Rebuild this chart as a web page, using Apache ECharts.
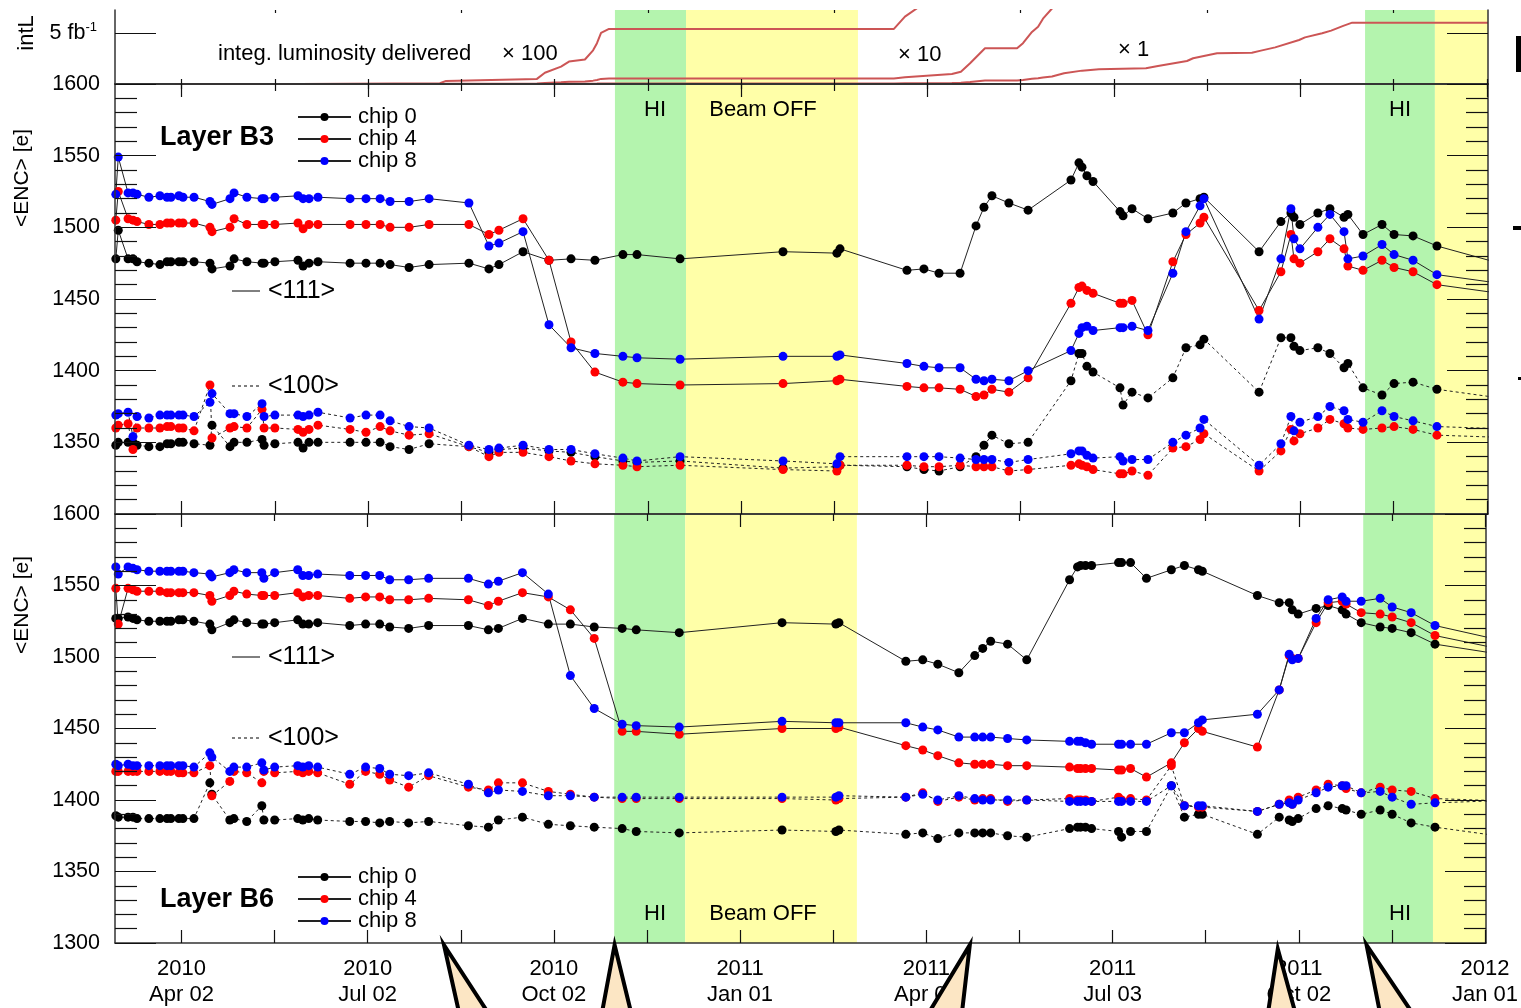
<!DOCTYPE html>
<html>
<head>
<meta charset="utf-8">
<script src="https://cdn.jsdelivr.net/npm/echarts@6/dist/echarts.min.js"></script>
<style>
html,body{margin:0;padding:0;background:#fff;}
#main{width:1521px;height:1008px;}
</style>
</head>
<body>
<div id="main"></div>
<script>
var myChart = echarts.init(document.getElementById('main'));
var FONT = 'Liberation Sans, Arial, sans-serif';

// calibration runs, in days since 2010-01-01
var days = [58.8,60.0,64.8,67.2,69.2,75.0,80.4,83.9,85.8,89.7,
	91.7,97.1,104.9,105.9,114.7,116.7,123.0,130.4,131.4,136.7,
	148.0,150.5,153.4,157.8,173.5,181.3,188.2,193.1,202.4,212.2,
	231.7,241.5,246.4,258.2,270.9,281.7,293.4,307.1,314.0,335.1,
	385.5,411.9,413.4,446.2,454.5,461.9,472.2,480.0,483.9,487.8,
	496.1,505.5,526.5,530.4,531.9,534.3,537.3,550.5,552.0,556.4,
	564.2,576.4,582.8,589.7,591.6,618.6,629.3,634.2,635.7,638.6,
	647.4,653.3,660.2,662.1,669.5,678.8,684.7,694.0,705.7,746.4];

// Layer B3, <111> sensors
var b3_111_chip0 = [1478,1498,1478,1478,1476,1475,1474,1476,1476,1476,
	1476,1476,1475,1471,1473,1478,1476,1475,1475,1476,
	1477,1473,1475,1476,1475,1475,1475,1474,1472,1474,
	1475,1471,1474,1483,1477,1478,1477,1481,1481,1478,
	1483,1482,1485,1470,1471,1468,1468,1501,1514,1522,
	1517,1512,1533,1545,1542,1536,1532,1511,1508,1513,
	1506,1510,1517,1520,1521,1483,1504,1510,1507,1502,
	1510,1513,1507,1509,1495,1502,1495,1494,1487,1471];
var b3_111_chip4 = [1505,1525,1506,1505,1504,1502,1502,1503,1503,1503,
	1503,1503,1500,1497,1500,1506,1502,1502,1502,1502,
	1503,1499,1502,1502,1502,1502,1502,1500,1500,1502,
	1502,1495,1498,1506,1477,1420,1399,1392,1391,1390,
	1391,1393,1394,1389,1388,1388,1387,1382,1383,1387,
	1385,1395,1447,1458,1459,1456,1454,1447,1447,1449,
	1425,1476,1495,1503,1507,1442,1469,1495,1478,1475,
	1483,1492,1485,1473,1470,1477,1472,1469,1460,1452];
var b3_111_chip8 = [1523,1549,1524,1524,1523,1521,1522,1521,1521,1522,
	1521,1521,1518,1516,1520,1524,1521,1520,1520,1521,
	1522,1520,1520,1521,1520,1520,1520,1518,1518,1520,
	1517,1487,1489,1497,1432,1416,1412,1410,1409,1408,
	1410,1410,1411,1405,1403,1402,1402,1394,1393,1394,
	1393,1400,1414,1426,1430,1431,1428,1430,1430,1431,
	1428,1468,1497,1515,1520,1436,1478,1513,1492,1485,
	1500,1509,1497,1478,1480,1488,1481,1477,1467,1459];

// Layer B3, <100> sensors
var b3_100_chip0 = [1348,1350,1350,1350,1348,1347,1347,1349,1349,1350,
	1350,1349,1348,1362,1347,1350,1350,1352,1348,1349,
	1350,1346,1350,1350,1350,1350,1350,1347,1345,1349,
	1347,1343,1345,1346,1344,1343,1340,1337,1336,1337,
	1332,1333,1334,1333,1331,1330,1333,1340,1348,1355,
	1349,1350,1393,1412,1412,1403,1399,1388,1376,1385,
	1381,1395,1416,1418,1422,1385,1423,1423,1417,1414,
	1416,1412,1402,1405,1388,1383,1391,1392,1387,1379];
var b3_100_chip4 = [1360,1362,1363,1345,1360,1360,1360,1361,1361,1360,
	1360,1358,1390,1353,1360,1361,1360,1373,1360,1360,
	1359,1357,1359,1362,1359,1357,1361,1358,1355,1356,
	1347,1340,1343,1343,1340,1337,1335,1334,1333,1334,
	1331,1330,1334,1334,1333,1333,1334,1333,1333,1333,
	1330,1331,1334,1335,1334,1333,1331,1328,1328,1330,
	1327,1346,1347,1352,1356,1330,1344,1359,1351,1356,
	1360,1366,1363,1360,1359,1360,1361,1359,1355,1353];
var b3_100_chip8 = [1369,1370,1371,1354,1368,1367,1369,1369,1369,1369,
	1369,1368,1378,1384,1370,1370,1368,1377,1368,1369,
	1369,1368,1369,1371,1367,1369,1369,1365,1361,1360,
	1348,1345,1346,1348,1345,1345,1342,1339,1337,1340,
	1337,1335,1340,1340,1340,1340,1339,1338,1338,1338,
	1336,1338,1342,1344,1344,1341,1339,1340,1337,1338,
	1338,1350,1355,1360,1366,1334,1349,1368,1358,1364,
	1368,1375,1372,1366,1364,1372,1368,1365,1361,1359];

// Layer B6, <111> sensors
var b6_111_chip0 = [1527,1527,1528,1527,1526,1525,1525,1525,1525,1526,
	1526,1525,1523,1519,1524,1526,1524,1523,1523,1524,
	1526,1523,1523,1524,1522,1523,1523,1521,1520,1522,
	1522,1519,1520,1527,1523,1523,1521,1520,1519,1517,
	1524,1523,1524,1497,1498,1495,1489,1501,1506,1511,
	1509,1498,1554,1563,1564,1564,1564,1566,1566,1566,
	1555,1561,1564,1561,1560,1543,1538,1538,1533,1530,
	1534,1536,1533,1530,1524,1521,1520,1517,1509,1500];
var b6_111_chip4 = [1548,1523,1548,1547,1546,1546,1546,1545,1545,1545,
	1545,1545,1543,1539,1543,1546,1544,1543,1543,1543,
	1545,1542,1543,1543,1541,1542,1542,1540,1540,1541,
	1540,1536,1539,1545,1542,1533,1513,1448,1448,1446,
	1450,1450,1451,1438,1435,1431,1426,1425,1425,1425,
	1424,1424,1423,1422,1422,1422,1422,1421,1421,1422,
	1416,1426,1440,1450,1448,1437,1477,1501,1499,1499,
	1524,1538,1539,1537,1531,1530,1528,1524,1515,1503];
var b6_111_chip8 = [1563,1558,1563,1562,1561,1560,1560,1560,1560,1560,
	1560,1559,1558,1556,1559,1561,1559,1559,1555,1559,
	1561,1557,1557,1558,1557,1557,1557,1554,1554,1555,
	1555,1551,1553,1559,1544,1487,1464,1453,1452,1451,
	1455,1454,1454,1454,1451,1449,1444,1444,1444,1444,
	1443,1442,1441,1441,1441,1440,1439,1439,1439,1439,
	1439,1447,1447,1454,1456,1460,1477,1502,1498,1499,
	1527,1540,1542,1539,1539,1541,1535,1531,1522,1509];

// Layer B6, <100> sensors
var b6_100_chip0 = [1389,1388,1388,1388,1387,1387,1387,1387,1387,1387,
	1387,1387,1412,1404,1386,1387,1385,1396,1386,1386,
	1387,1386,1387,1386,1385,1385,1384,1385,1384,1385,
	1382,1381,1386,1388,1383,1382,1381,1380,1378,1377,
	1379,1378,1379,1376,1377,1373,1377,1377,1377,1377,
	1375,1374,1380,1381,1381,1381,1380,1378,1374,1378,
	1378,1410,1388,1390,1390,1376,1388,1386,1385,1387,
	1394,1396,1394,1393,1390,1393,1390,1384,1381,1373];
var b6_100_chip4 = [1420,1420,1420,1420,1420,1420,1420,1420,1420,1419,
	1419,1419,1424,1403,1413,1420,1419,1412,1420,1419,
	1420,1419,1420,1419,1411,1420,1418,1414,1409,1417,
	1409,1407,1412,1412,1406,1404,1402,1401,1401,1401,
	1401,1400,1401,1402,1405,1399,1402,1400,1401,1401,
	1399,1400,1401,1400,1400,1400,1399,1402,1400,1401,
	1400,1424,1396,1395,1395,1392,1397,1400,1397,1402,
	1407,1411,1410,1408,1405,1409,1407,1406,1401,1399];
var b6_100_chip8 = [1425,1424,1425,1424,1424,1424,1424,1424,1424,1424,
	1424,1423,1433,1430,1420,1423,1423,1426,1421,1423,
	1424,1423,1424,1423,1418,1423,1422,1418,1417,1419,
	1411,1405,1407,1406,1403,1403,1402,1402,1402,1402,
	1402,1402,1403,1402,1404,1400,1403,1401,1400,1400,
	1400,1400,1399,1399,1399,1399,1399,1399,1399,1399,
	1399,1410,1396,1396,1396,1392,1397,1398,1397,1400,
	1405,1409,1410,1410,1405,1406,1402,1397,1398,1400];

// integrated luminosity delivered [fb-1]
var lumiDays = [87.8,149.0,217.5,220.5,265.0,268.9,276.8,280.7,288.5,292.5,
	294.4,296.4,300.3,439.8,445.2,468.2,472.6,477.1,484.4,500.1,
	503.0,507.4,510.4,512.8,517.2,523.1,531.9,540.2,563.2,569.1,
	583.3,586.3,598.0,615.1,619.5,626.5,638.2,641.1,649.5,653.9,
	659.8,664.2,730.7];
var lumiFb = [0,0.0001,0.0007,0.003,0.005,0.011,0.017,0.022,0.024,0.033,
	0.040,0.050,0.054,0.054,0.066,0.098,0.12,0.203,0.35,0.35,
	0.40,0.51,0.56,0.64,0.74,1.05,1.31,1.44,1.54,1.76,
	2.25,2.52,3.01,3.07,3.27,3.59,4.31,4.57,4.97,5.23,
	5.69,6.01,6.01];
var lumiScales = [100, 10, 1];

// time axis ticks
var labelDays = [91.0,182.3,273.6,364.9,456.3,547.6,638.9,730.2];
var minorDays = [136.7,228.0,319.3,410.6,501.9,593.2,684.5];
var tickLabels = ['2010\nApr 02','2010\nJul 02','2010\nOct 02','2011\nJan 01','2011\nApr 02','2011\nJul 03','2011\nOct 02','2012\nJan 01'];
var allTicks = labelDays.concat(minorDays);

// heavy ion runs and beam off periods
var hiRuns = [[303.2,338.0],[670.5,704.7]];
var beamOff = [[338.0,422.2],[704.7,745]];

var chips = ['chip 0','chip 4','chip 8'];
var chipColors = ['#000000','#ff0000','#0000ff'];

var XMIN = 58.4, XMAX = 730.7;
var axisLineStyle = {color:'#333', width:1.5};
var tickStyle = {color:'#111', width:1.2};

function xAxes(g, len, withLabels){
	var res = [];
	res.push({
		type:'value', gridIndex:g, position:'bottom', min:XMIN, max:XMAX, z:10,
		splitLine:{show:false}, axisLine:{show:true, lineStyle:axisLineStyle},
		axisTick:{show:true, inside:true, length:len, customValues:allTicks, lineStyle:tickStyle},
		axisLabel: withLabels ? {
			show:true, customValues:labelDays, margin:13, fontSize:22, lineHeight:26,
			color:'#000', fontFamily:FONT,
			formatter:function(v){
				var best = 0;
				for (var i = 0; i < labelDays.length; i++) {
					if (Math.abs(labelDays[i]-v) < Math.abs(labelDays[best]-v)) best = i;
				}
				return tickLabels[best];
			}
		} : {show:false}
	});
	res.push({
		type:'value', gridIndex:g, position:'top', min:XMIN, max:XMAX, z:10,
		splitLine:{show:false}, axisLine:{show:true, lineStyle:axisLineStyle},
		axisTick:{show:true, inside:true, length:len, customValues:labelDays, lineStyle:tickStyle},
		axisLabel:{show:false}
	});
	res.push({
		type:'value', gridIndex:g, position:'top', min:XMIN, max:XMAX, z:10,
		splitLine:{show:false}, axisLine:{show:false},
		axisTick:{show:true, inside:true, length:Math.round(len/2), customValues:minorDays, lineStyle:tickStyle},
		axisLabel:{show:false}
	});
	return res;
}

function encY(g, showMin){
	var base = {
		type:'value', gridIndex:g, min:1300, max:1600, interval:50, z:10,
		splitLine:{show:false}, axisLine:{show:true, lineStyle:axisLineStyle},
		axisTick:{show:true, inside:true, length:41, lineStyle:tickStyle},
		minorTick:{show:true, splitNumber:5, length:22, lineStyle:tickStyle}
	};
	var left = Object.assign({}, base, {position:'left',
		axisLabel:{show:true, showMinLabel:showMin, margin:15, fontSize:21.5, color:'#000', fontFamily:FONT,
			formatter:function(v){ return String(v); }}});
	var right = Object.assign({}, base, {position:'right', axisLabel:{show:false}});
	return [left, right];
}

var lumiY = {
	type:'value', gridIndex:0, min:0, max:7.25, position:'left', z:10,
	splitLine:{show:false}, axisLine:{show:true, lineStyle:axisLineStyle},
	axisTick:{show:true, inside:true, length:41, customValues:[5], lineStyle:tickStyle},
	axisLabel:{show:true, customValues:[5], margin:18, color:'#000', fontFamily:FONT,
		formatter:function(){ return '{a|5 fb}{s|-1}'; },
		rich:{a:{fontSize:21.5, fontFamily:FONT, color:'#000'}, s:{fontSize:13, fontFamily:FONT, color:'#000', padding:[0,0,12,0]}}}
};
var lumiYRight = {
	type:'value', gridIndex:0, min:0, max:7.25, position:'right', z:10,
	splitLine:{show:false}, axisLine:{show:true, lineStyle:axisLineStyle},
	axisTick:{show:true, inside:true, length:41, customValues:[5], lineStyle:tickStyle},
	axisLabel:{show:false}
};

function bandSeries(g){
	var areas = [];
	hiRuns.forEach(function(r){
		areas.push([{xAxis:r[0], itemStyle:{color:'#b4f4ae'}}, {xAxis:r[1]}]);
	});
	beamOff.forEach(function(r){
		areas.push([{xAxis:r[0], itemStyle:{color:'#ffffa8'}}, {xAxis:r[1]}]);
	});
	return {
		type:'line', xAxisIndex:g*3, yAxisIndex:g*2, data:[], silent:true, z:1,
		markArea:{silent:true, data:areas}
	};
}

function encSeries(name, vals, color, dashed, g){
	return {
		name:name, type:'line', xAxisIndex:g*3, yAxisIndex:g*2,
		data:days.map(function(d, i){ return [d, vals[i]]; }),
		symbol:'circle', symbolSize:9, clip:true, z:3,
		itemStyle:{color:color},
		lineStyle:{color:'#222', width:1, type: dashed ? [3,3] : 'solid'}
	};
}

var series = [bandSeries(0), bandSeries(1), bandSeries(2)];

// B3 / B6, solid <111> first so the legend takes their style
[[b3_111_chip0,b3_111_chip4,b3_111_chip8,1,false],
 [b6_111_chip0,b6_111_chip4,b6_111_chip8,2,false],
 [b3_100_chip0,b3_100_chip4,b3_100_chip8,1,true],
 [b6_100_chip0,b6_100_chip4,b6_100_chip8,2,true]].forEach(function(set){
	for (var c = 0; c < 3; c++) {
		series.push(encSeries(chips[c], set[c], chipColors[c], set[4], set[3]));
	}
});

lumiScales.forEach(function(k){
	series.push({
		name:'x'+k, type:'line', xAxisIndex:0, yAxisIndex:0, clip:true, z:3,
		showSymbol:false, symbol:'none',
		data:lumiDays.map(function(d, i){ return [d, lumiFb[i]*k]; }),
		lineStyle:{color:'#cc5555', width:2}
	});
});

function legendAt(top){
	return {
		data:chips, orient:'vertical', left:292, top:top, itemWidth:53, itemHeight:10,
		itemGap:0, selectedMode:false,
		textStyle:{fontSize:22, lineHeight:21.5, color:'#000', fontFamily:FONT, padding:[0,0,0,2]}
	};
}

function txt(x, y, s, size, opts){
	var o = {type:'text', x:x, y:y, z:50,
		style:{text:s, fill:'#000', font:(opts && opts.bold ? 'bold ' : '') + size + 'px ' + FONT,
			align:(opts && opts.align) || 'left', verticalAlign:'middle'}};
	if (opts && opts.rot) o.rotation = opts.rot;
	return o;
}
function hline(x1, x2, y, dashed){
	return {type:'line', z:50, shape:{x1:x1, y1:y, x2:x2, y2:y},
		style:{stroke:'#000', lineWidth:1, lineDash: dashed ? [3,3] : null}};
}
function tri(p){
	return {type:'polygon', z:100, shape:{points:p},
		style:{fill:'#fce6c4', stroke:'#000', lineWidth:4}};
}

var graphics = [
	txt(27, 33, 'intL', 22, {align:'center', rot:Math.PI/2}),
	txt(22, 178, '<ENC> [e]', 21, {align:'center', rot:Math.PI/2}),
	txt(22, 605, '<ENC> [e]', 21, {align:'center', rot:Math.PI/2}),
	txt(218, 54, 'integ. luminosity delivered', 22),
	txt(502, 54, '\u00d7 100', 22),
	txt(898, 55, '\u00d7 10', 22),
	txt(1118, 50, '\u00d7 1', 22),
	txt(160, 138, 'Layer B3', 27, {bold:true}),
	txt(160, 900, 'Layer B6', 27, {bold:true}),
	hline(232, 260, 291, false), txt(268, 291, '<111>', 25),
	hline(232, 260, 386, true), txt(268, 386, '<100>', 25),
	hline(232, 260, 657, false), txt(268, 657, '<111>', 25),
	hline(232, 260, 738, true), txt(268, 738, '<100>', 25),
	txt(655, 110, 'HI', 22, {align:'center'}),
	txt(763, 110, 'Beam OFF', 22, {align:'center'}),
	txt(1400, 110, 'HI', 22, {align:'center'}),
	txt(655, 914, 'HI', 22, {align:'center'}),
	txt(763, 914, 'Beam OFF', 22, {align:'center'}),
	txt(1400, 914, 'HI', 22, {align:'center'}),
	tri([[444,945],[492.8,1020],[460.7,1020]]),
	tri([[614.6,945],[632.9,1020],[600.6,1020]]),
	tri([[969.8,945],[961.1,1020],[924.4,1020]]),
	tri([[1277.8,949],[1297.3,1020],[1266.9,1020]]),
	tri([[1366.6,945],[1417.1,1020],[1381.4,1020]]),
	{type:'rect', z:50, shape:{x:1516, y:36, width:5, height:36}, style:{fill:'#000'}},
	{type:'rect', z:50, shape:{x:1513, y:226, width:8, height:4}, style:{fill:'#000'}},
	{type:'rect', z:50, shape:{x:1518, y:377, width:3, height:3}, style:{fill:'#000'}}
];

myChart.setOption({
	animation:false,
	backgroundColor:'#fff',
	textStyle:{fontFamily:FONT},
	grid:[
		{left:115, top:10, width:1373, height:74},
		{left:115, top:84, width:1373, height:430},
		{left:115, top:514, width:1373, height:430}
	],
	xAxis: xAxes(0, 5, false).concat(xAxes(1, 13, false), xAxes(2, 13, true)),
	yAxis: [lumiY, lumiYRight].concat(encY(1, false), encY(2, true)),
	legend:[legendAt(101), legendAt(861)],
	series:series,
	graphic:{elements:graphics}
});
</script>
</body>
</html>
